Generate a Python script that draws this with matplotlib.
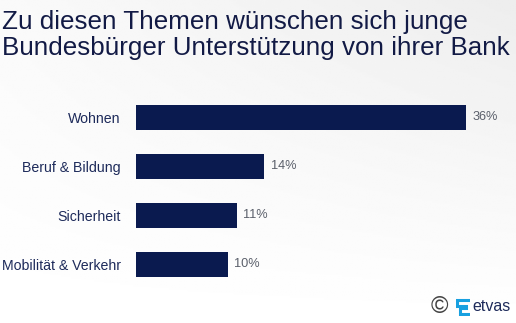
import numpy as np
import matplotlib
matplotlib.use("Agg")
import matplotlib.pyplot as plt  # noqa

categories = ["Wohnen", "Beruf & Bildung", "Sicherheit", "Mobilität & Verkehr"]
values = [36, 14, 11, 10]
value_labels = ["36%", "14%", "11%", "10%"]
title = "Zu diesen Themen wünschen sich junge\nBundesbürger Unterstützung von ihrer Bank"

navy = "#0a1a4f"
text_navy = "#1d2a5a"
grey = "#5a5f6a"

plt.rcParams['font.family'] = ['Liberation Sans', 'DejaVu Sans']

fig = plt.figure(figsize=(5.16, 3.23), dpi=100)

# faint background gradient
bg = fig.add_axes([0, 0, 1, 1], zorder=-10)
grad = np.linspace(0, 1, 200)[:, None] * np.linspace(0.3, 1, 200)[None, :]
bg.imshow(1 - 0.07 * grad, cmap="gray", vmin=0, vmax=1, aspect="auto",
          extent=[0, 1, 0, 1], origin="lower")
bg.axis("off")

ax = fig.add_axes([0.2636, 0.1053, 0.7106, 0.6068])
y = np.arange(len(categories))
ax.barh(y, values, height=0.51, color=navy)
ax.set_xlim(0, 40)
ax.set_ylim(len(categories) - 0.5, -0.5)
ax.set_yticks(y)
ax.set_yticklabels(categories, fontsize=10.2, color=text_navy)
ax.tick_params(axis="y", length=0, pad=11)
ax.set_xticks([])
for s in ax.spines.values():
    s.set_visible(False)
ax.patch.set_alpha(0)

for yi, v, lab in zip(y, values, value_labels):
    ax.text(v + 0.7, yi, lab, va="center", ha="left", fontsize=9.2, color=grey)

fig.text(0.004, 0.968, title, ha="left", va="top", fontsize=18.7,
         color="#121a45", linespacing=1.1)

# logo
fig.text(0.852, 0.05, "©", ha="center", va="center", fontsize=17,
         color="#444444")
fig.text(0.916, 0.05, "etvas", ha="left", va="center", fontsize=11.5,
         color="#1d2a5a")
logo = fig.add_axes([0.883, 0.022, 0.028, 0.055])
logo.plot([1, 0, 0, 0.75, 0.75, 0.25, 0.25, 1], [1, 1, 0.55, 0.55, 0.45, 0.45, 0, 0],
          color="#18a0e0", lw=2.2, solid_joinstyle="miter")
logo.set_xlim(-0.1, 1.1)
logo.set_ylim(-0.1, 1.1)
logo.axis("off")

plt.savefig("out.png", dpi=100)
